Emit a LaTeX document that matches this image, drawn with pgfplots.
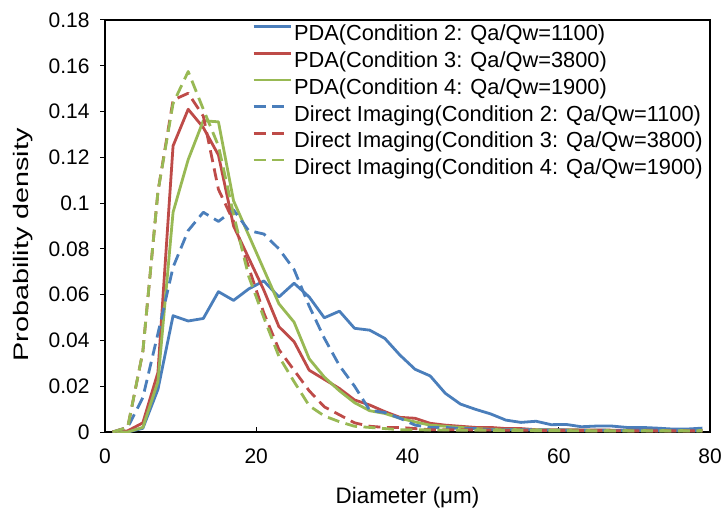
\documentclass[border=0pt]{standalone}
\usepackage{fontspec}
\setmainfont{Liberation Sans}
\usepackage{pgfplots}
\pgfplotsset{compat=1.18}
\definecolor{cb}{HTML}{4A7EBB}
\definecolor{cr}{HTML}{BE4B48}
\definecolor{cg}{HTML}{98B954}
\begin{document}
\begin{tikzpicture}
\begin{axis}[name=ax, scale only axis, width=605pt, height=412pt,
  xmin=0, xmax=80, ymin=0, ymax=0.18,
  xtick={0,20,40,60,80},
  ytick={0,0.02,0.04,0.06,0.08,0.1,0.12,0.14,0.16,0.18},
  scaled y ticks=false,
  /pgf/number format/assume math mode=true,
  yticklabel style={/pgf/number format/fixed, /pgf/number format/precision=2, xshift=-7pt},
  xticklabel style={yshift=-8pt},
  tick label style={font=\fontsize{21}{25}\selectfont},
  xtick pos=left, ytick pos=left,
  tick align=outside, major tick length=5pt,
  xtick style={yshift=5pt},
  tick style={black, line width=1pt},
  axis line style={black, line width=1.5pt},
  xlabel={Diameter (μm)},
  ylabel={\scalebox{1.37}[1]{Probability density}},
  every axis x label/.style={at={(axis description cs:0.5,-0.174)}, anchor=base, font=\fontsize{22.4}{26}\selectfont},
  every axis y label/.style={at={(axis description cs:-0.136,0.454)}, rotate=90, anchor=center, font=\fontsize{21}{25}\selectfont},
  legend cell align=left,
  legend style={at={(rel axis cs:0.243,1)}, anchor=north west, draw=none, fill=none,
    font=\fontsize{21.8}{26}\selectfont, row sep=0pt, inner sep=0pt,
    nodes={inner xsep=2pt, inner ysep=0pt, text height=20.8pt, text depth=5.9pt}},
  legend image code/.code={\draw[#1] (0pt,7pt) -- (37pt,7pt);},
  every axis plot/.append style={line width=2.8pt, line join=round},
]
\addplot[cb] coordinates {(1,0) (3,0) (5,0.0016) (7,0.0186) (9,0.0508) (11,0.0485) (13,0.0496) (15,0.0613) (17,0.0575) (19,0.0625) (21,0.0660) (23,0.0590) (25,0.0650) (27,0.0590) (29,0.0499) (31,0.0528) (33,0.0453) (35,0.0445) (37,0.0409) (39,0.0336) (41,0.0274) (43,0.0245) (45,0.0169) (47,0.0122) (49,0.0099) (51,0.0079) (53,0.0052) (55,0.0042) (57,0.0047) (59,0.0032) (61,0.0033) (63,0.0023) (65,0.0026) (67,0.0026) (69,0.0020) (71,0.0020) (73,0.0017) (75,0.0013) (77,0.0013) (79,0.0017)};
\addlegendentry{PDA(Condition 2: Qa/Qw=1100)}
\addplot[cr] coordinates {(1,0) (3,0.0005) (5,0.004) (7,0.026) (9,0.125) (11,0.141) (13,0.133) (15,0.121) (17,0.090) (19,0.076) (21,0.062) (23,0.046) (25,0.0395) (27,0.027) (29,0.023) (31,0.019) (33,0.014) (35,0.0118) (37,0.0089) (39,0.0064) (41,0.006) (43,0.0038) (45,0.003) (47,0.0025) (49,0.002) (51,0.002) (53,0.0015) (55,0.0015) (57,0.001) (59,0.001) (61,0.001) (63,0.0009) (65,0.0009) (67,0.0008) (69,0.0008) (71,0.0008) (73,0.0007) (75,0.0007) (77,0.0007) (79,0.0007)};
\addlegendentry{PDA(Condition 3: Qa/Qw=3800)}
\addplot[cg] coordinates {(1,0) (3,0) (5,0.002) (7,0.022) (9,0.096) (11,0.119) (13,0.136) (15,0.1355) (17,0.101) (19,0.086) (21,0.071) (23,0.056) (25,0.048) (27,0.032) (29,0.024) (31,0.018) (33,0.0128) (35,0.0093) (37,0.0081) (39,0.006) (41,0.0044) (43,0.003) (45,0.0025) (47,0.002) (49,0.0015) (51,0.0012) (53,0.0011) (55,0.001) (57,0.001) (59,0.0009) (61,0.0009) (63,0.0008) (65,0.0008) (67,0.0007) (69,0.0007) (71,0.0007) (73,0.0006) (75,0.0006) (77,0.0006) (79,0.0006)};
\addlegendentry{PDA(Condition 4: Qa/Qw=1900)}
\addplot[cb, dash pattern=on 12pt off 6.5pt] coordinates {(1,0) (3,0.002) (5,0.015) (7,0.043) (9,0.072) (11,0.088) (13,0.096) (15,0.092) (17,0.097) (19,0.088) (21,0.0865) (23,0.080) (25,0.071) (27,0.055) (29,0.041) (31,0.029) (33,0.020) (35,0.0095) (37,0.0085) (39,0.006) (41,0.003) (43,0.002) (45,0.002) (47,0.0015) (49,0.0015) (51,0.001) (53,0.001) (55,0.001) (57,0.0009) (59,0.0009) (61,0.0008) (63,0.0008) (65,0.0008) (67,0.0007) (69,0.0007) (71,0.0007) (73,0.0006) (75,0.0006) (77,0.0006) (79,0.0006)};
\addlegendentry{Direct Imaging(Condition 2: Qa/Qw=1100)}
\addplot[cr, dash pattern=on 12pt off 6.5pt] coordinates {(1,0) (3,0.002) (5,0.035) (7,0.105) (9,0.145) (11,0.148) (13,0.138) (15,0.106) (17,0.092) (19,0.072) (21,0.052) (23,0.036) (25,0.027) (27,0.018) (29,0.011) (31,0.0075) (33,0.004) (35,0.0025) (37,0.002) (39,0.002) (41,0.0015) (43,0.001) (45,0.001) (47,0.001) (49,0.0009) (51,0.0009) (53,0.0008) (55,0.0008) (57,0.0007) (59,0.0007) (61,0.0007) (63,0.0006) (65,0.0006) (67,0.0006) (69,0.0005) (71,0.0005) (73,0.0005) (75,0.0005) (77,0.0005) (79,0.0005)};
\addlegendentry{Direct Imaging(Condition 3: Qa/Qw=3800)}
\addplot[cg, dash pattern=on 12pt off 6.5pt] coordinates {(1,0) (3,0.002) (5,0.035) (7,0.105) (9,0.1435) (11,0.1575) (13,0.141) (15,0.125) (17,0.095) (19,0.068) (21,0.050) (23,0.033) (25,0.022) (27,0.0115) (29,0.007) (31,0.0045) (33,0.0025) (35,0.002) (37,0.0015) (39,0.001) (41,0.001) (43,0.0009) (45,0.0009) (47,0.0008) (49,0.0008) (51,0.0007) (53,0.0007) (55,0.0007) (57,0.0006) (59,0.0006) (61,0.0006) (63,0.0005) (65,0.0005) (67,0.0005) (69,0.0005) (71,0.0005) (73,0.0005) (75,0.0005) (77,0.0005) (79,0.0005)};
\addlegendentry{Direct Imaging(Condition 4: Qa/Qw=1900)}
\end{axis}
\pgfresetboundingbox
\path[use as bounding box] ([shift={(-105pt,-76pt)}]ax.south west) rectangle ([shift={(15pt,20pt)}]ax.north east);
\end{tikzpicture}
\end{document}
